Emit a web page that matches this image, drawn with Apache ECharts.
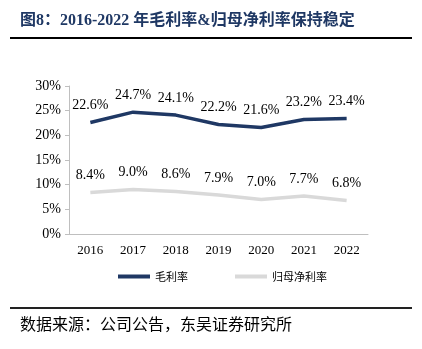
<!DOCTYPE html>
<html><head><meta charset="utf-8">
<script src="https://cdn.jsdelivr.net/npm/echarts@6/dist/echarts.min.js"></script>
<style>html,body{margin:0;padding:0;background:#fff}#c{width:422px;height:349px}</style>
</head><body><div id="c"></div>
<script>
var categories = ['2016','2017','2018','2019','2020','2021','2022'];
var grossMargin = [22.6, 24.7, 24.1, 22.2, 21.6, 23.2, 23.4];
var netMargin = [8.4, 9.0, 8.6, 7.9, 7.0, 7.7, 6.8];
var yTicks = [0, 5, 10, 15, 20, 25, 30];

var serif = '"Liberation Serif","Times New Roman",serif';
var cjk = '"Noto Sans CJK SC",sans-serif';
var chart = echarts.init(document.getElementById('c'));
function lbl(p){return p.value.toFixed(1) + '%';}
chart.setOption({
  animation: false,
  graphic: [
    {type:'text', left: 20, top: 13, style:{text:'图8：2016-2022 年毛利率&归母净利率保持稳定', fill:'#1F3864', font:'bold 16px "Liberation Serif","Noto Sans CJK SC",serif'}},
    {type:'rect', shape:{x:10, y:37, width:402, height:2}, style:{fill:'#000'}},
    {type:'rect', shape:{x:10, y:307, width:402, height:2}, style:{fill:'#222'}},
    {type:'text', left: 20, top: 316, style:{text:'数据来源：公司公告，东吴证券研究所', fill:'#000', font:'16px "Noto Sans CJK SC",sans-serif'}}
  ],
  grid: {left: 69, right: 54, top: 86, bottom: 115, containLabel: false},
  legend: {
    top: 266, left: 113, itemGap: 47, itemWidth: 32, itemHeight: 4,
    icon: 'rect',
    textStyle: {fontFamily: cjk, fontSize: 11, color: '#000'},
    data: ['毛利率', '归母净利率']
  },
  xAxis: {
    type: 'category', data: categories, boundaryGap: true,
    axisLine: {lineStyle: {color: '#BFBFBF'}},
    axisTick: {inside: true, length: 4, lineStyle: {color: '#BFBFBF'}},
    axisLabel: {fontFamily: serif, fontSize: 13, color: '#000', margin: 10}
  },
  yAxis: {
    type: 'value', min: 0, max: 30, interval: 5,
    axisLine: {show: true, lineStyle: {color: '#BFBFBF'}},
    axisTick: {show: true, length: 4, lineStyle: {color: '#BFBFBF'}},
    splitLine: {show: false},
    axisLabel: {fontFamily: serif, fontSize: 14, color: '#000', margin: 8, formatter: function(v){return v + '%';}}
  },
  series: [
    {name: '毛利率', type: 'line', data: grossMargin, symbol: 'circle', symbolSize: 0.1, showSymbol: true,
     lineStyle: {color: '#1F3864', width: 3.5}, itemStyle: {color: '#1F3864'},
     label: {show: true, position: 'top', distance: 10, fontFamily: serif, fontSize: 14, color: '#000', formatter: lbl}},
    {name: '归母净利率', type: 'line', data: netMargin, symbol: 'circle', symbolSize: 0.1, showSymbol: true,
     lineStyle: {color: '#D9D9D9', width: 3.5}, itemStyle: {color: '#D9D9D9'},
     label: {show: true, position: 'top', distance: 10, fontFamily: serif, fontSize: 14, color: '#000', formatter: lbl}}
  ]
});
</script></body></html>
